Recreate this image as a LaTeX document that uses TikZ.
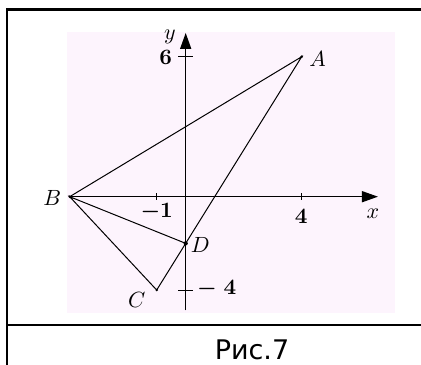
\documentclass[tikz,border=0pt]{standalone}
\usepackage{fontspec}
\newfontfamily\capfont{DejaVu Sans}
\usetikzlibrary{arrows.meta}
\definecolor{bgpink}{RGB}{253,244,253}

\tikzset{
  lbl/.style={inner sep=0pt,scale=2.2},
  num/.style={lbl,font=\boldmath},
  dot/.style={circle,fill,inner sep=1pt},
  axis/.style={line width=1.4pt,-{Triangle[length=16pt,width=11pt]}},
  side/.style={line width=1pt}
}

\begin{document}
\begin{tikzpicture}[x=29pt,y=23.33pt]
    % Ramka
    \useasboundingbox (-6.403,-7.214) rectangle (8.114,8.431);
    \clip (-6.403,-7.214) rectangle (8.114,8.431);
    \fill[white] (-6.403,-7.214) rectangle (8.114,8.431);
    \fill[bgpink] (-4.09,-4.99) rectangle (7.22,7.07);
    \draw[line width=2.5pt] (8.6,8.024) -- (-6.162,8.024) -- (-6.162,-7.6);
    \draw[line width=2.5pt] (-6.162,-5.499) -- (8.6,-5.499);
    \node[font=\capfont,scale=2.7] (cap) at (2.286,-6.57) {Рис.7};

    % Osi
    \coordinate (xs) at (-4,0);
    \coordinate (xe) at (6.63,0);
    \coordinate (ys) at (0,-4.87);
    \coordinate (ye) at (0,7.02);
    \draw[axis] (xs) -- (xe);
    \draw[axis] (ys) -- (ye);
    \node[lbl] (xl) at (6.46,-0.72) {$x$};
    \node[lbl] (yl) at (-0.54,6.85) {$y$};

    % Deleniya
    \foreach \x in {-1,4} \draw[line width=1pt] (\x,0.15) -- (\x,-0.15);
    \foreach \y in {6,-4} \draw[line width=1pt] (-0.26,\y) -- (0.26,\y);
    \node[num] (n1) at (-1.0,-0.64) {$-1$};
    \node[num] (n4) at (3.98,-0.83) {$4$};
    \node[num] (n6) at (-0.69,5.95) {$6$};
    \node[num] (nm4) at (1.07,-3.96) {$-\;4$};

    % Vershiny
    \coordinate (A) at (4,6);
    \coordinate (B) at (-4,0);
    \coordinate (C) at (-1,-4);
    \coordinate (D) at (0,-2);

    % Storony
    \draw[side] (B) -- (A) -- (C) -- (B) -- (D);

    % Tochki
    \node[dot] (pA) at (A) {};
    \node[dot] (pB) at (B) {};
    \node[dot] (pC) at (C) {};
    \node[dot,inner sep=1.5pt] (pD) at (D) {};

    % Podpisi tochek
    \node[lbl] (lA) at (4.55,5.9) {$A$};
    \node[lbl] (lB) at (-4.6,-0.06) {$B$};
    \node[lbl] (lC) at (-1.69,-4.43) {$C$};
    \node[lbl] (lD) at (0.5,-2.07) {$D$};
\end{tikzpicture}
\end{document}
